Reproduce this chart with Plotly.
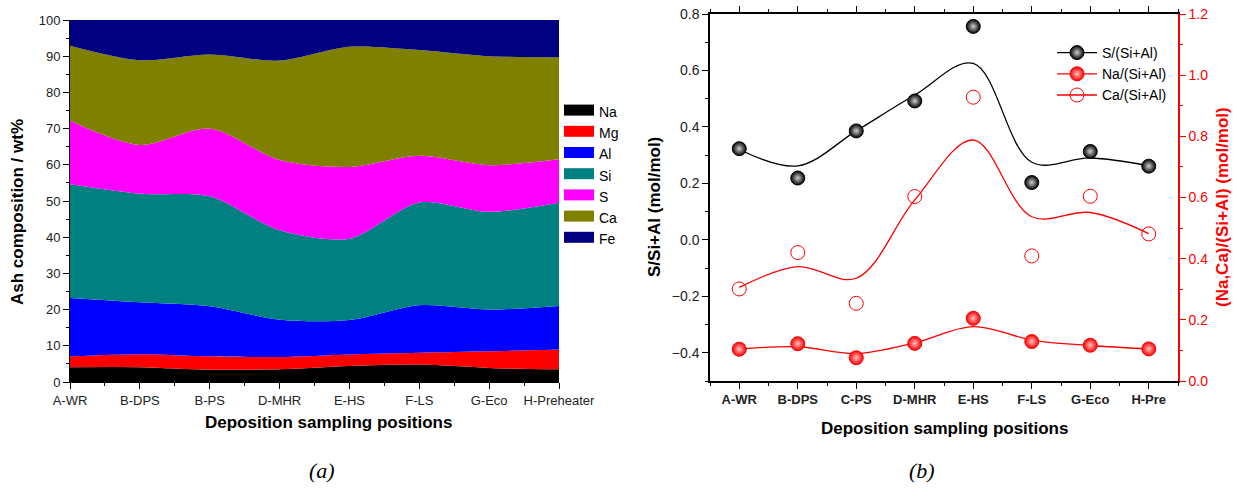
import plotly.graph_objects as go

# ---------- data: panel (a) ----------
cats_a = ["A-WR", "B-DPS", "B-PS", "D-MHR", "E-HS", "F-LS", "G-Eco", "H-Preheater"]
na = [4.1, 4.1, 3.4, 3.5, 4.4, 4.8, 3.9, 3.5]
mg = [3.0, 3.6, 3.7, 3.4, 3.2, 3.3, 4.6, 5.5]
al = [16.1, 14.3, 13.8, 10.3, 9.5, 13.1, 11.5, 12.0]
si = [31.4, 30.0, 30.4, 24.7, 22.5, 28.4, 27.0, 28.5]
s = [17.6, 13.5, 18.7, 19.4, 19.8, 12.9, 12.9, 12.0]
ca = [20.7, 23.4, 20.5, 27.5, 33.2, 29.2, 30.1, 28.2]
fe = [7.1, 11.1, 9.5, 11.2, 7.4, 8.3, 10.0, 10.3]

# ---------- data: panel (b) ----------
cats_b = ["A-WR", "B-DPS", "C-PS", "D-MHR", "E-HS", "F-LS", "G-Eco", "H-Pre"]
s_ratio = [0.323, 0.219, 0.386, 0.492, 0.756, 0.203, 0.313, 0.261]
na_ratio = [0.104, 0.122, 0.076, 0.123, 0.205, 0.129, 0.117, 0.105]
ca_ratio = [0.301, 0.420, 0.254, 0.603, 0.928, 0.409, 0.604, 0.481]
# smoothed fit curves read at each position
s_fit = [0.320, 0.262, 0.386, 0.513, 0.625, 0.275, 0.290, 0.263]
na_fit = [0.104, 0.112, 0.090, 0.125, 0.178, 0.134, 0.116, 0.105]
ca_fit = [0.306, 0.374, 0.336, 0.592, 0.788, 0.537, 0.551, 0.482]

W, H = 1237, 497
def px_x(v): return v / W
def px_y(v): return 1 - v / H

FONT = "Liberation Sans, Arial, sans-serif"
fig = go.Figure()

xa = list(range(len(cats_a)))
layers = [("Na", na, "#000000"), ("Mg", mg, "#FF0000"), ("Al", al, "#0000FF"),
          ("Si", si, "#008080"), ("S", s, "#FF00FF"), ("Ca", ca, "#808000"),
          ("Fe", fe, "#000080")]
for name, vals, col in layers:
    fig.add_trace(go.Scatter(x=xa, y=vals, name=name, stackgroup="one",
                             mode="lines", line=dict(width=0, color=col, shape="spline", smoothing=0.8),
                             fillcolor=col, xaxis="x", yaxis="y", showlegend=False))
for name, vals, col in layers:
    # legend swatch
    fig.add_trace(go.Scatter(x=[None], y=[None], name=name, mode="lines", fill="toself",
                             fillcolor=col, line=dict(width=10, color=col),
                             xaxis="x", yaxis="y", legend="legend"))

xb = list(range(len(cats_b)))
series_b = [
    ("S/(Si+Al)", s_ratio, s_fit, "#000000", "y2", "circle", "#d0d0d0"),
    ("Na/(Si+Al)", na_ratio, na_fit, "#FF0000", "y3", "circle", "#ffc0c0"),
    ("Ca/(Si+Al)", ca_ratio, ca_fit, "#FF0000", "y3", "circle-open", None),
]
for name, pts, fit, col, yax, sym, grad in series_b:
    fig.add_trace(go.Scatter(x=xb, y=fit, mode="lines", line=dict(color=col, width=1.3, shape="spline", smoothing=1.0),
                             xaxis="x2", yaxis=yax, showlegend=False, hoverinfo="skip"))
    marker = dict(symbol=sym, size=14, color=col, line=dict(width=1, color=col))
    if grad:
        marker["gradient"] = dict(type="radial", color=grad)
    fig.add_trace(go.Scatter(x=xb, y=pts, mode="markers", name=name,
                             marker=marker, xaxis="x2", yaxis=yax, showlegend=False))
    fig.add_trace(go.Scatter(x=[None], y=[None], mode="lines+markers", name=name,
                             line=dict(color=col, width=1.3), marker=marker,
                             xaxis="x2", yaxis=yax, legend="legend2"))

tickfont = dict(family=FONT, size=13, color="#222")
titlefont = dict(family=FONT, size=17, color="black", weight="bold")

fig.update_layout(
    width=W, height=H, margin=dict(l=0, r=0, t=0, b=0),
    paper_bgcolor="white", plot_bgcolor="rgba(0,0,0,0)",
    xaxis=dict(domain=[px_x(70), px_x(559)], range=[0, 7], tickmode="array",
               tickvals=xa, ticktext=cats_a, ticks="outside", ticklen=6, tickcolor="black",
               showline=True, linecolor="black", linewidth=1, showgrid=False, zeroline=False,
               minor=dict(dtick=0.5, tick0=0, ticks="outside", ticklen=3, tickcolor="black"),
               tickfont=tickfont, anchor="y", automargin=False),
    yaxis=dict(domain=[px_y(382), px_y(20)], range=[0, 100], dtick=10, ticks="outside",
               ticklen=6, tickcolor="black", showline=True, linecolor="black", linewidth=1,
               showgrid=False, zeroline=False, tickfont=tickfont,
               minor=dict(dtick=5, ticks="outside", ticklen=3, tickcolor="black"),
               anchor="x", automargin=False),
    xaxis2=dict(domain=[px_x(710), px_x(1178)], range=[-0.5, 7.5], tickmode="array",
                tickvals=xb, ticktext=cats_b, ticks="outside", ticklen=6, tickcolor="black",
                showline=True, linecolor="black", linewidth=1.5, mirror="ticks", showgrid=False,
                zeroline=False, minor=dict(dtick=0.5, tick0=0.5, ticks="outside", ticklen=3, tickcolor="black"),
                tickfont=dict(family=FONT, size=13, color="#222", weight="bold"), anchor="y2",
                automargin=False),
    yaxis2=dict(domain=[px_y(381), px_y(14)], range=[-0.5, 0.8], dtick=0.2, tick0=0,
                tickformat=".1f", ticks="outside", ticklen=6, tickcolor="black",
                showline=True, linecolor="black", linewidth=1.5, showgrid=False, zeroline=False,
                minor=dict(dtick=0.1, tick0=0, ticks="outside", ticklen=3, tickcolor="black"),
                tickfont=dict(family=FONT, size=14, color="#222"), anchor="x2", automargin=False),
    yaxis3=dict(domain=[px_y(381), px_y(14)], range=[0, 1.2], dtick=0.2, tick0=0,
                tickformat=".1f", ticks="outside", ticklen=6, tickcolor="red",
                showline=True, linecolor="red", linewidth=1.5, showgrid=False, zeroline=False,
                minor=dict(dtick=0.1, tick0=0, ticks="outside", ticklen=3, tickcolor="red"),
                tickfont=dict(family=FONT, size=14, color="red"), anchor="x2",
                overlaying="y2", side="right", automargin=False),
    legend=dict(x=px_x(559), y=px_y(96), xanchor="left", yanchor="top",
                font=dict(family=FONT, size=14, color="black"), tracegroupgap=0,
                itemwidth=30, bgcolor="rgba(0,0,0,0)", traceorder="normal"),
    legend2=dict(x=px_x(1052), y=px_y(37), xanchor="left", yanchor="top",
                 font=dict(family=FONT, size=14, color="black"), bgcolor="rgba(0,0,0,0)",
                 itemwidth=40),
)

ann = [
    dict(text="Ash composition / wt%", x=px_x(17), y=px_y(212), textangle=-90, font=titlefont),
    dict(text="Deposition sampling positions", x=px_x(328), y=px_y(422), font=titlefont),
    dict(text="S/Si+Al (mol/mol)", x=px_x(655), y=px_y(207), textangle=-90, font=titlefont),
    dict(text="(Na,Ca)/(Si+Al) (mol/mol)", x=px_x(1223), y=px_y(207), textangle=-90,
         font=dict(family=FONT, size=17, color="red", weight="bold")),
    dict(text="Deposition sampling positions", x=px_x(944), y=px_y(428), font=titlefont),
    dict(text="(a)", x=px_x(322), y=px_y(470),
         font=dict(family="Liberation Serif, Times New Roman, serif", size=22, style="italic", color="black")),
    dict(text="(b)", x=px_x(922), y=px_y(470),
         font=dict(family="Liberation Serif, Times New Roman, serif", size=22, style="italic", color="black")),
]
for a in ann:
    fig.add_annotation(xref="paper", yref="paper", showarrow=False, xanchor="center", yanchor="middle", **a)

fig.write_html("out.html")
